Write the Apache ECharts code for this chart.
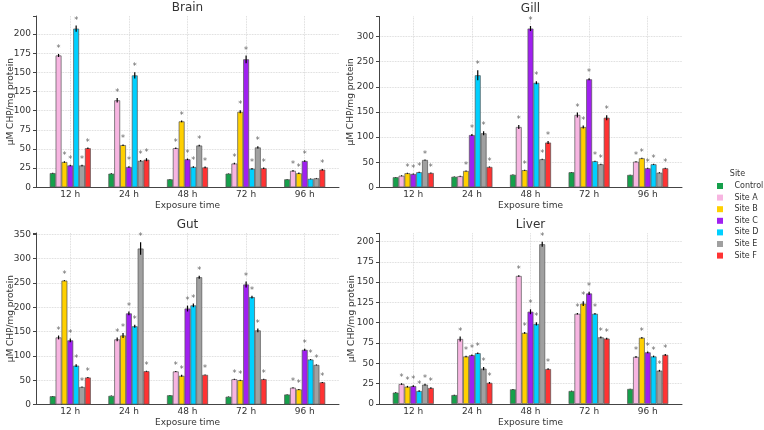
<!DOCTYPE html>
<html>
<head>
<meta charset="utf-8">
<script src="https://cdn.jsdelivr.net/npm/echarts@6/dist/echarts.min.js"></script>
<style>
  html, body { margin: 0; padding: 0; background: #fff; }
  #main { width: 764px; height: 430px; }
</style>
</head>
<body>
<div id="main"></div>
<script>
var timeLabels = ['12 h', '24 h', '48 h', '72 h', '96 h'];
var sites = ['Control', 'Site A', 'Site B', 'Site C', 'Site D', 'Site E', 'Site F'];
var siteColors = ['#16a04b', '#f7b5e1', '#ffd000', '#a020f0', '#00d0ff', '#a0a0a0', '#ff3333'];

// rows = site, columns = exposure time
var brainMean = [
    [18.5, 17.8, 10.4, 17.8, 10.4],
    [172, 113.5, 51, 31, 21.5],
    [33, 55, 86, 98.5, 18.3],
    [28.5, 26.5, 36.5, 167, 34.3],
    [207, 146, 26.5, 24.3, 11],
    [28.5, 34.5, 54.5, 52, 11.7],
    [51, 36, 26, 24.8, 23]
];
var brainErr = [
    [0.4, 0.4, 0.3, 0.3, 0.3],
    [2, 3, 1, 1, 1],
    [1, 1, 1, 2, 1],
    [1, 1, 1, 5, 1],
    [4, 4, 1, 1, 0.5],
    [1, 1, 1, 1.5, 0.5],
    [1, 2, 1, 1, 1]
];
var brainStar = [
    [0, 0, 0, 0, 0],
    [1, 1, 1, 1, 1],
    [1, 1, 1, 1, 1],
    [1, 1, 1, 1, 1],
    [1, 1, 1, 1, 0],
    [1, 1, 1, 1, 0],
    [1, 1, 1, 1, 1]
];

var gillMean = [
    [20, 21, 25, 30, 24.6],
    [23, 22, 120, 144, 51],
    [28, 32.5, 34, 120, 57.7],
    [26.5, 104, 316, 215, 37.8],
    [30, 223, 208, 51.8, 45.8],
    [54.4, 107.5, 55.8, 45.8, 29],
    [28.5, 40.5, 89, 138.5, 37.8]
];
var gillErr = [
    [0.5, 0.5, 0.5, 0.5, 0.5],
    [1, 1, 4, 5, 1],
    [1, 1, 1, 3, 1],
    [1, 2, 5, 2, 1],
    [1, 10, 3, 1, 1],
    [1, 4, 1, 1, 1],
    [1, 1, 3, 5, 1]
];
var gillStar = [
    [0, 0, 0, 0, 0],
    [0, 0, 1, 1, 1],
    [1, 1, 1, 1, 1],
    [1, 1, 1, 1, 1],
    [1, 1, 1, 1, 1],
    [1, 1, 1, 1, 0],
    [1, 1, 1, 1, 1]
];

var gutMean = [
    [17, 17.8, 19, 16, 20.5],
    [138, 134, 68, 52, 34.5],
    [255, 142, 59, 50, 31],
    [132, 187.5, 197.5, 247, 112.5],
    [80, 161, 204, 221, 92.5],
    [36, 321, 262, 152.5, 81.5],
    [55.5, 68.5, 61, 52, 45.5]
];
var gutErr = [
    [0.5, 0.5, 0.5, 0.5, 0.5],
    [4, 4, 1, 1, 1],
    [1, 5, 2, 1, 1],
    [4, 4, 6, 6, 2],
    [3, 3, 4, 3, 1],
    [1, 13, 3, 4, 1],
    [1, 1, 1, 1, 1]
];
var gutStar = [
    [0, 0, 0, 0, 0],
    [1, 1, 1, 1, 1],
    [1, 1, 1, 1, 1],
    [1, 1, 1, 1, 1],
    [1, 1, 1, 1, 1],
    [1, 1, 1, 1, 1],
    [1, 1, 1, 1, 1]
];

var liverMean = [
    [14, 11, 18, 16, 18.5],
    [24.6, 80, 157.5, 111, 58],
    [21.3, 58.5, 87.5, 123.5, 81.5],
    [22, 60, 113.5, 136, 63.5],
    [16, 62.5, 98.5, 111, 58.5],
    [23.8, 43.5, 196.5, 82, 41],
    [19.7, 26, 43, 80.5, 60.5]
];
var liverErr = [
    [0.4, 0.4, 0.4, 0.4, 0.4],
    [1, 3, 1, 1, 1],
    [1, 1, 1, 3, 1],
    [1, 1, 3, 2, 1],
    [1, 1, 2, 1, 1],
    [1, 2, 3, 1, 1],
    [1, 1, 1, 1, 1]
];
var liverStar = [
    [0, 0, 0, 0, 0],
    [1, 1, 1, 1, 1],
    [1, 1, 1, 1, 1],
    [1, 1, 1, 1, 1],
    [1, 1, 1, 1, 1],
    [1, 1, 1, 1, 1],
    [1, 1, 1, 1, 1]
];

var panels = [
    {title: 'Brain', mean: brainMean, err: brainErr, star: brainStar, max: 223.5, interval: 25},
    {title: 'Gill', mean: gillMean, err: gillErr, star: gillStar, max: 340, interval: 50},
    {title: 'Gut', mean: gutMean, err: gutErr, star: gutStar, max: 353, interval: 50},
    {title: 'Liver', mean: liverMean, err: liverErr, star: liverStar, max: 210, interval: 25}
];

// layout of the 2x2 grid
var grids = [
    {left: 36, top: 16, width: 303, height: 171.3},
    {left: 379, top: 16.5, width: 303, height: 170.8},
    {left: 36, top: 233, width: 303, height: 171.5},
    {left: 379, top: 233.3, width: 303, height: 170.7}
];
var yNameGaps = [21, 23.5, 21, 23];
var xMin = -0.585, xMax = 4.585, barStep = 0.1;
var barPx = 303 / (xMax - xMin) * barStep;
var font = 'DejaVu Sans';
var axisColor = '#444';
var textColor = '#333';

var option = {
    animation: false,
    backgroundColor: '#fff',
    textStyle: {fontFamily: font},
    title: [],
    grid: [],
    xAxis: [],
    yAxis: [],
    series: [],
    legend: {
        data: sites,
        orient: 'vertical',
        left: 717,
        top: 182,
        padding: 0,
        icon: 'rect',
        itemWidth: 6,
        itemHeight: 6,
        itemGap: 3.6,
        itemStyle: {borderWidth: 0},
        textStyle: {fontSize: 8, color: textColor, lineHeight: 8, padding: [0, 0, 0, 6.4]}
    }
};

option.title.push({
    text: 'Site', left: 737.5, top: 170, textAlign: 'center', padding: 0,
    textStyle: {fontSize: 8, fontWeight: 'normal', color: textColor, fontFamily: font}
});

panels.forEach(function(p, pi) {
    var g = grids[pi];
    option.grid.push(g);
    option.title.push({
        text: p.title,
        left: g.left + g.width / 2,
        top: g.top - 14,
        padding: 0,
        textAlign: 'center',
        textStyle: {fontSize: 12, fontWeight: 'normal', color: textColor, fontFamily: font}
    });
    option.xAxis.push({
        type: 'value',
        gridIndex: pi,
        min: xMin,
        max: xMax,
        name: 'Exposure time',
        nameLocation: 'middle',
        nameGap: 14,
        nameTextStyle: {fontSize: 9, color: textColor},
        axisLine: {show: true, onZero: false, lineStyle: {color: axisColor, width: 1}},
        axisTick: {show: false},
        axisLabel: {
            fontSize: 9, color: textColor, margin: 3,
            showMinLabel: false, showMaxLabel: false,
            formatter: function(v) {
                var r = Math.round(v);
                return Math.abs(v - r) < 1e-6 && r >= 0 && r < timeLabels.length ? timeLabels[r] : '';
            }
        },
        splitLine: {show: true, showMinLine: false, showMaxLine: false,
            lineStyle: {type: 'dotted', color: '#cfcfcf', width: 0.8}}
    });
    option.yAxis.push({
        type: 'value',
        gridIndex: pi,
        min: 0,
        max: p.max,
        interval: p.interval,
        name: 'µM CHP/mg protein',
        nameLocation: 'middle',
        nameGap: yNameGaps[pi],
        nameMoveOverlap: false,
        nameTextStyle: {fontSize: 9, color: textColor},
        axisLine: {show: true, onZero: false, lineStyle: {color: axisColor, width: 1}},
        axisTick: {show: true, length: 3, lineStyle: {color: axisColor}},
        axisLabel: {
            fontSize: 9, color: textColor, margin: 5,
            formatter: function(v) {
                return v % p.interval === 0 ? String(v) : '';
            }
        },
        splitLine: {show: true, showMaxLine: false,
            lineStyle: {type: 'dotted', color: '#cfcfcf', width: 0.8}}
    });

    var marks = [];
    sites.forEach(function(s, si) {
        var off = (si - 3) * barStep;
        option.series.push({
            name: s,
            type: 'bar',
            xAxisIndex: pi,
            yAxisIndex: pi,
            barWidth: barPx,
            barGap: '-100%',
            itemStyle: {color: siteColors[si], borderColor: '#555', borderWidth: 0.7},
            data: p.mean[si].map(function(v, ti) { return [ti + off, v]; })
        });
        p.mean[si].forEach(function(v, ti) {
            marks.push([ti + off, v, p.err[si][ti], p.star[si][ti]]);
        });
    });

    // error bars and significance marks
    option.series.push({
        type: 'custom',
        xAxisIndex: pi,
        yAxisIndex: pi,
        clip: false,
        z: 5,
        data: marks,
        renderItem: function(params, api) {
            var x = api.value(0), y = api.value(1), e = api.value(2), s = api.value(3);
            var top = api.coord([x, y + e]);
            var bot = api.coord([x, y - e]);
            var children = [{
                type: 'line',
                shape: {x1: top[0], y1: top[1], x2: bot[0], y2: bot[1]},
                style: {stroke: '#000', lineWidth: 1.2}
            }];
            if (s) {
                children.push({
                    type: 'text',
                    x: top[0],
                    y: top[1] - 5,
                    style: {text: '*', fill: '#666', fontSize: 8, fontFamily: font,
                        textAlign: 'center', textVerticalAlign: 'middle'}
                });
            }
            return {type: 'group', children: children};
        }
    });
});

var chart = echarts.init(document.getElementById('main'));
chart.setOption(option);
</script>
</body>
</html>
